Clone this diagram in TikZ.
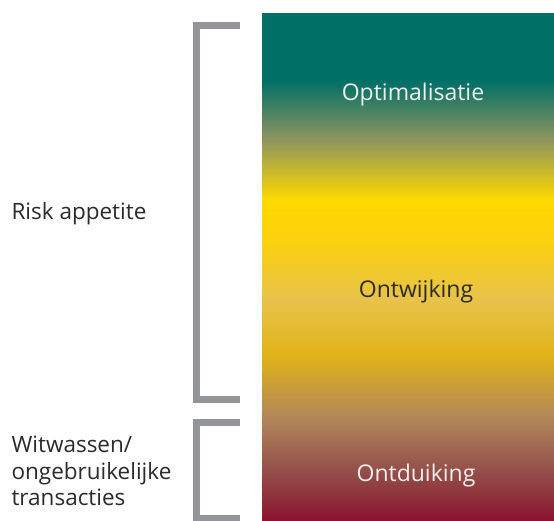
\documentclass[tikz,border=0pt]{standalone}
\usepackage{fontspec}
\setmainfont{Open Sans}
\definecolor{riskteal}{HTML}{006F66}
\definecolor{riskolive}{HTML}{8E955F}
\definecolor{riskyellow}{HTML}{FFD900}
\definecolor{riskgold}{HTML}{FBD20C}
\definecolor{risksand}{HTML}{E8C24A}
\definecolor{riskmustard}{HTML}{E0B318}
\definecolor{riskbrown}{HTML}{B0855A}
\definecolor{riskrose}{HTML}{94504A}
\definecolor{riskred}{HTML}{8A1530}
\definecolor{bracketgray}{HTML}{939598}
\definecolor{labeldark}{HTML}{2B2B2B}
\pgfdeclareverticalshading{riskscale}{100bp}{%
  color(0bp)=(riskred); color(25bp)=(riskred);
  color(29.93bp)=(riskrose); color(34.86bp)=(riskbrown);
  color(41.27bp)=(riskmustard); color(46.70bp)=(risksand);
  color(52.61bp)=(riskgold); color(56.56bp)=(riskyellow);
  color(62.48bp)=(riskolive); color(68.39bp)=(riskteal);
  color(75bp)=(riskteal); color(100bp)=(riskteal)}

\begin{document}
\begin{tikzpicture}[x=1pt, y=-1pt,
    bracket/.style = {draw=bracketgray, line width=7pt},
    side/.style    = {anchor=west, align=left, text=labeldark,
      font=\fontsize{22.5}{26.5}\selectfont},
    zone/.style    = {font=\fontsize{23}{27}\selectfont}]
  \useasboundingbox (0,0) rectangle (554,520);
  % scale bar
  \shade[shading=riskscale] (262,13) rectangle (554,520);
  \node[zone, text=white!94!black] (optim) at (413,95) {Optimalisatie};
  \node[zone, text=labeldark] (ontwijk) at (416,292) {Ontwijking};
  \node[zone, text=white!94!black] (ontduik) at (416,476) {Ontduiking};
  % brackets
  \coordinate (apptop) at (240,25);
  \coordinate (appbot) at (240,399.5);
  \coordinate (wwtop) at (240,422.5);
  \coordinate (wwbot) at (240,518);
  \draw[bracket] (apptop) -| (196.5,399.5) -- (appbot);
  \draw[bracket] (wwtop) -| (196.5,518) -- (wwbot);
  \node[side] (appetite) at (8,214) {Risk appetite};
  \node[side] (witwas) at (8,471) {Witwassen/\\ongebruikelijke\\transacties};
\end{tikzpicture}
\end{document}
